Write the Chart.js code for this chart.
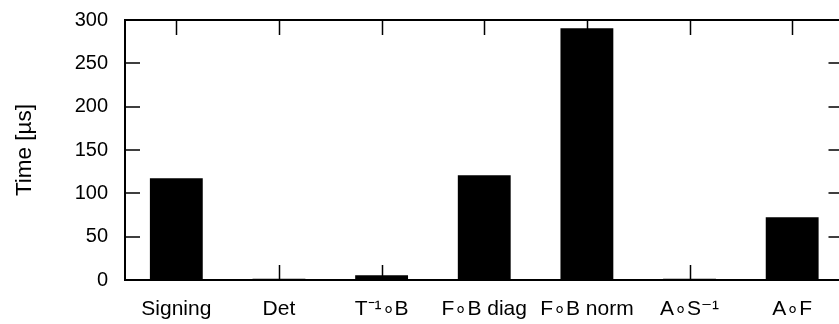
<!DOCTYPE html>
<html>
<head>
<meta charset="utf-8">
<script src="https://cdn.jsdelivr.net/npm/chart.js@4/dist/chart.umd.min.js"></script>
<style>
  html, body { margin: 0; padding: 0; background: #fff; overflow: hidden; }
  #wrap { position: relative; width: 846px; height: 324px; }
</style>
</head>
<body>
<div id="wrap"><canvas id="c"></canvas></div>
<script>
const categories = ["Signing", "Det", "T\u207B\u00B9\u2218B", "F\u2218B diag", "F\u2218B norm", "A\u2218S\u207B\u00B9", "A\u2218F"];
const timeValues = [117.3, 1.5, 5.4, 120.8, 290.4, 1.5, 72.3];
const yTicks = [0, 50, 100, 150, 200, 250, 300];
const yTitle = "Time [\u00B5s]";

const FONT = "'Liberation Sans', Arial, Helvetica, sans-serif";

const framePlugin = {
  id: 'frame',
  afterDatasetsDraw(chart) {
    const { ctx, chartArea: a, scales: { x, y } } = chart;
    ctx.save();
    ctx.strokeStyle = '#000';
    ctx.lineWidth = 1.5;
    const tl = 15;
    ctx.beginPath();
    yTicks.forEach(v => {
      const py = Math.round(y.getPixelForValue(v));
      if (v !== yTicks[0] && v !== yTicks[yTicks.length - 1]) {
        ctx.moveTo(a.left, py); ctx.lineTo(a.left + tl, py);
        ctx.moveTo(a.right, py); ctx.lineTo(a.right - tl, py);
      }
    });
    categories.forEach((c, i) => {
      const px = Math.round(x.getPixelForValue(i)) + 0.5;
      ctx.moveTo(px, a.bottom); ctx.lineTo(px, a.bottom - tl);
      ctx.moveTo(px, a.top); ctx.lineTo(px, a.top + tl);
    });
    ctx.stroke();
    ctx.lineWidth = 2;
    ctx.strokeRect(a.left, a.top, a.right - a.left, a.bottom - a.top);
    ctx.restore();
  }
};

new Chart(document.getElementById('c'), {
  type: 'bar',
  data: {
    labels: categories,
    datasets: [{
      data: timeValues,
      backgroundColor: '#000',
      borderWidth: 0,
      categoryPercentage: 1.0,
      barPercentage: 0.515
    }]
  },
  options: {
    responsive: true,
    maintainAspectRatio: false,
    animation: false,
    layout: { padding: { top: 20, right: 2.5, left: 0, bottom: 0 } },
    plugins: { legend: { display: false }, tooltip: { enabled: false } },
    scales: {
      x: {
        grid: { display: false, drawTicks: false },
        border: { display: false },
        ticks: { color: '#000', font: { family: FONT, size: 21 }, padding: 17, maxRotation: 0, autoSkip: false },
        afterFit(s) { s.height = 44; s.paddingLeft = 0; s.paddingRight = 0; }
      },
      y: {
        min: 0, max: 300,
        afterBuildTicks(s) { s.ticks = yTicks.map(v => ({ value: v })); },
        grid: { display: false, drawTicks: false },
        border: { display: false },
        ticks: { color: '#000', font: { family: FONT, size: 20 }, padding: 17 },
        title: { display: true, text: yTitle, color: '#000', font: { family: FONT, size: 22.5 }, padding: { top: 11, bottom: 0 } },
        afterFit(s) { s.width = 125; s.paddingTop = 0; s.paddingBottom = 0; }
      }
    }
  },
  plugins: [framePlugin]
});
</script>
</body>
</html>
